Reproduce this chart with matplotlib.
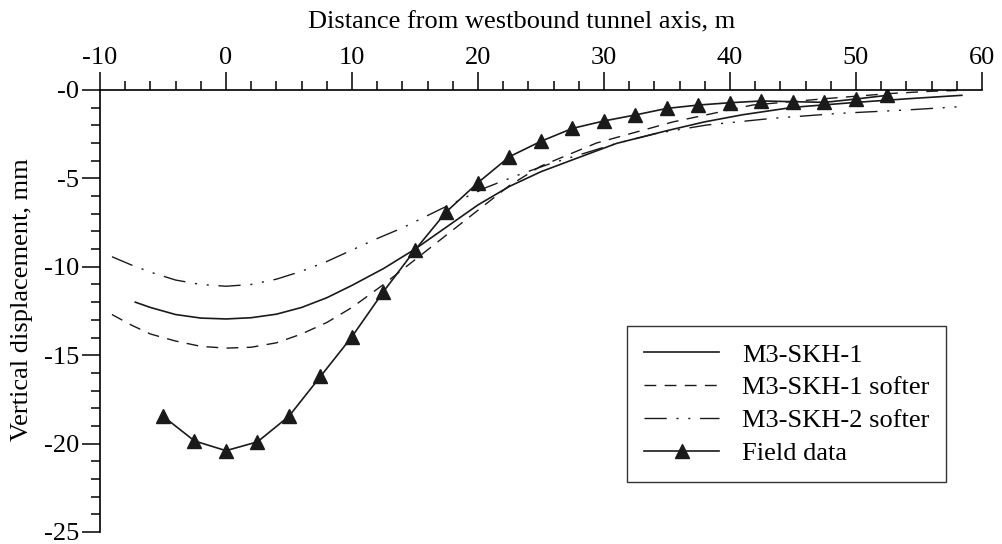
import numpy as np
import matplotlib
matplotlib.use('Agg')
import matplotlib.pyplot as plt
from matplotlib.ticker import MultipleLocator, FuncFormatter

plt.rcParams['font.family'] = ['Liberation Serif', 'DejaVu Serif']
plt.rcParams['axes.unicode_minus'] = False

# M3-SKH-1 (solid)
skh1_x = [-7.2, -6, -4, -2, 0, 2, 4, 6, 8, 10, 12.5, 15, 17.5, 20, 22.5, 25, 27.5, 31, 35, 38,
          41, 45, 50, 54, 58.4]
skh1_y = [-12.0, -12.3, -12.7, -12.9, -12.95, -12.88, -12.68, -12.3, -11.75, -11.05, -10.1, -9.0,
          -7.75, -6.5, -5.45, -4.62, -3.95, -3.02, -2.3, -1.8, -1.4, -0.98, -0.7, -0.5, -0.3]

# M3-SKH-1 softer (dashed)
skh1s_x = [-9.05, -7.5, -6, -4, -2, 0, 2, 4, 6, 8, 10, 12.5, 15, 17.5, 20, 22.5, 25, 29.4, 35.5,
           41.8, 47.9, 52.7, 56, 58]
skh1s_y = [-12.7, -13.3, -13.8, -14.2, -14.5, -14.6, -14.55, -14.3, -13.8, -13.15, -12.3, -11.0,
           -9.6, -8.2, -6.8, -5.4, -4.3, -3.0, -1.8, -0.85, -0.47, -0.2, -0.07, -0.03]

# M3-SKH-2 softer (dash-dot-dot)
skh2s_x = [-9.05, -7.5, -6, -4, -2, 0, 2, 4, 6, 8, 10, 12, 14, 17, 20.7, 23.3, 25.6, 31, 34.2,
           38.15, 43.4, 48.7, 54, 58.3]
skh2s_y = [-9.43, -9.9, -10.3, -10.75, -11.0, -11.1, -11.0, -10.7, -10.25, -9.7, -9.05, -8.4,
           -7.8, -6.75, -5.5, -4.78, -4.2, -3.02, -2.45, -1.98, -1.6, -1.32, -1.13, -0.94]

# Field data (triangles)
field_x = [-5, -2.5, 0, 2.5, 5, 7.5, 10, 12.5, 15, 17.5, 20, 22.5, 25, 27.5, 30, 32.5, 35, 37.5,
           40, 42.5, 45, 47.5, 50, 52.5]
field_y = [-18.45, -19.85, -20.4, -19.9, -18.45, -16.2, -13.95, -11.4, -9.05, -6.88, -5.24, -3.77,
           -2.9, -2.17, -1.75, -1.41, -1.04, -0.85, -0.72, -0.62, -0.66, -0.70, -0.51, -0.3]

fs = 19

fig = plt.figure(figsize=(10.03, 5.44), dpi=100)
ax = fig.add_axes([100 / 1003, 12 / 544, 882 / 1003, 442 / 544])

ax.plot(skh1_x, skh1_y, color='#1a1a1a', lw=1.2, label='M3-SKH-1')
ax.plot(skh1s_x, skh1s_y, color='#1a1a1a', lw=1.0, linestyle=(0, (8.5, 6)),
        label='M3-SKH-1 softer')
ax.plot(skh2s_x, skh2s_y, color='#1a1a1a', lw=1.0,
        linestyle=(0, (16, 7, 1.5, 7, 1.5, 7)), label='M3-SKH-2 softer')
ax.plot(field_x, field_y, color='#1a1a1a', lw=1.2, marker='^', ms=10,
        markerfacecolor='#1a1a1a', label='Field data')

ax.set_xlim(-10, 60)
ax.set_ylim(-25, 0)

# axes on top and left only
ax.spines['bottom'].set_visible(False)
ax.spines['right'].set_visible(False)
ax.spines['top'].set_linewidth(1.2)
ax.spines['left'].set_linewidth(1.2)
ax.xaxis.tick_top()
ax.xaxis.set_major_locator(MultipleLocator(10))
ax.xaxis.set_minor_locator(MultipleLocator(2))
ax.yaxis.set_major_locator(MultipleLocator(5))
ax.yaxis.set_minor_locator(MultipleLocator(1))
ax.yaxis.set_major_formatter(FuncFormatter(lambda v, p: '-%d' % abs(round(v))))
ax.tick_params(which='major', direction='out', length=13, width=1.1, labelsize=fs, pad=2)
ax.tick_params(which='minor', direction='out', length=6.5, width=1.1)

ax.set_xlabel('Distance from westbound tunnel axis, m', fontsize=fs)
ax.xaxis.set_label_position('top')
ax.xaxis.set_label_coords((522 - 100) / 882, (532 - 22) / 442)
ax.xaxis.label.set_va('center')
ax.set_ylabel('Vertical displacement, mm', fontsize=fs)
ax.yaxis.set_label_coords((22 - 100) / 882, (532 - 300) / 442)
ax.yaxis.label.set_va('center')

leg = ax.legend(loc='upper left', bbox_to_anchor=((627 - 100) / 882, (532 - 326) / 442),
                borderaxespad=0, fontsize=fs, fancybox=False, framealpha=1,
                edgecolor='#333333', handlelength=2.85, handletextpad=0.85,
                labelspacing=0.35, borderpad=0.65)
leg.get_frame().set_linewidth(1.0)

fig.savefig('out.png', dpi=100)
